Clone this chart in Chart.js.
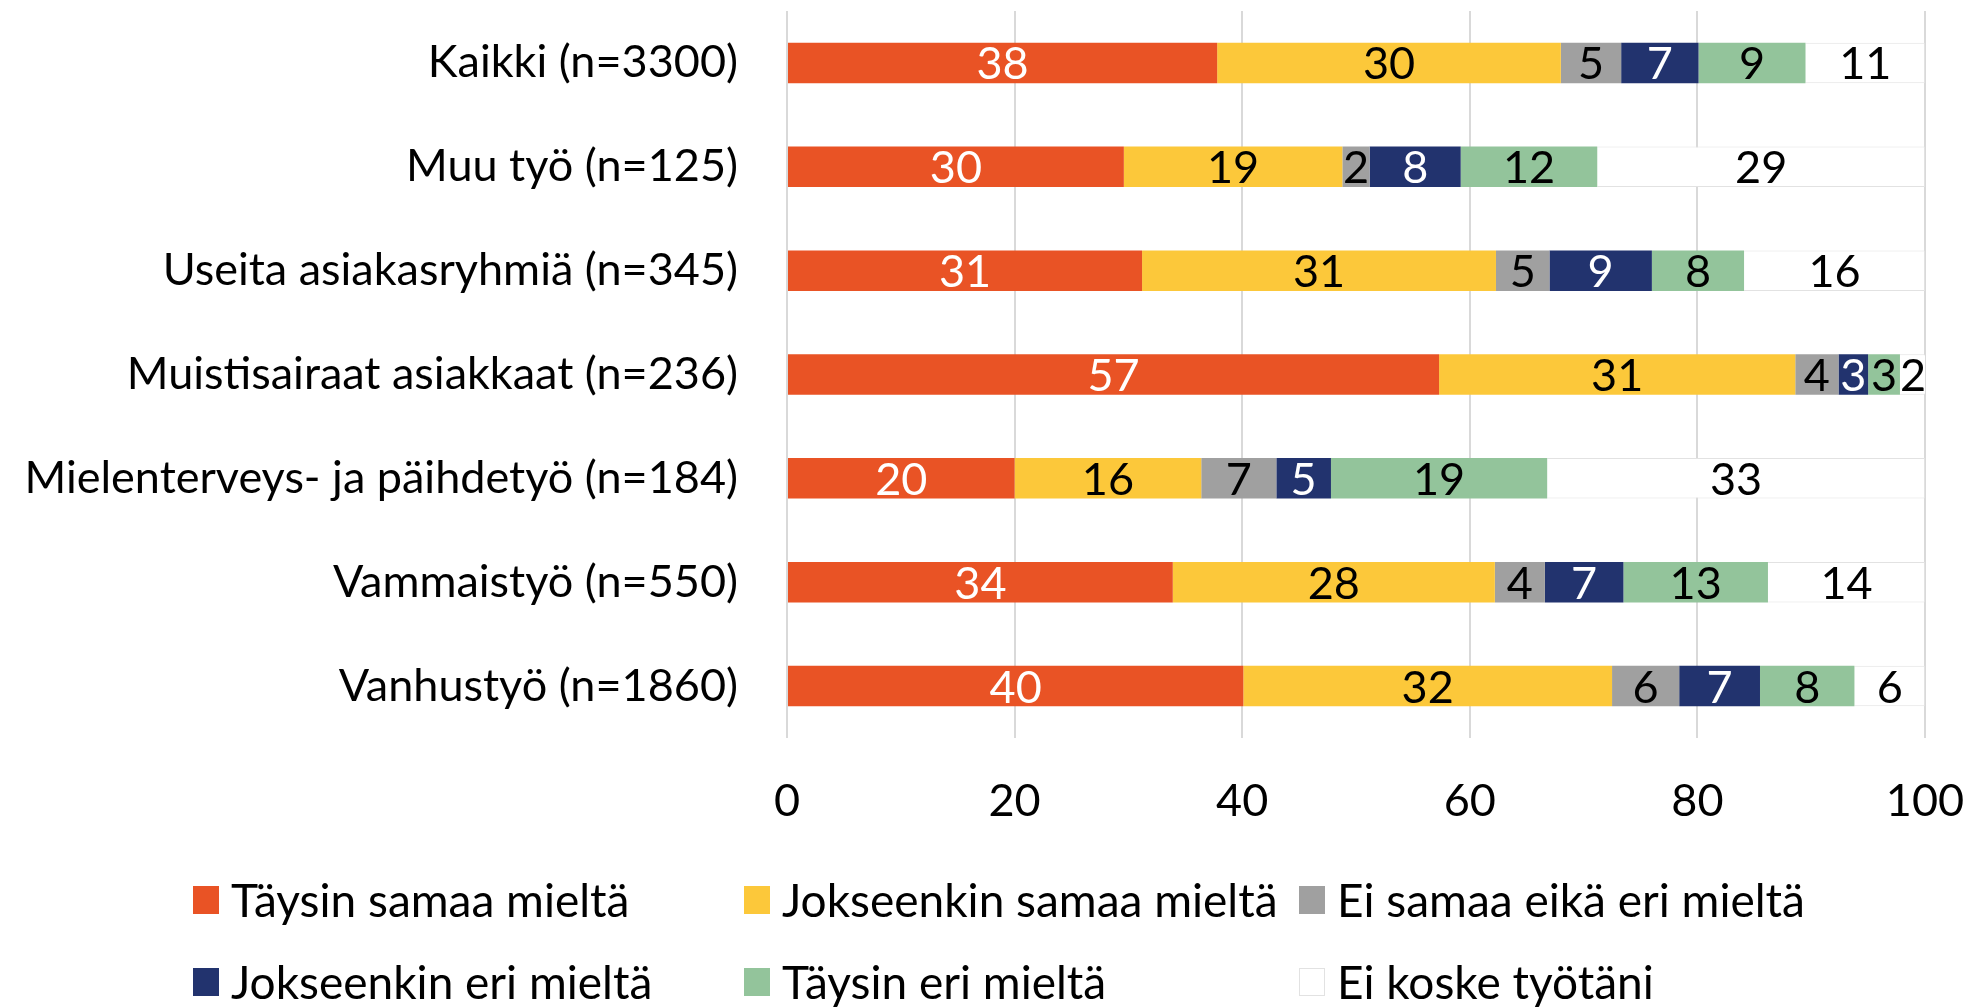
<!DOCTYPE html>
<html>
<head>
<meta charset="utf-8">
<script src="https://cdn.jsdelivr.net/npm/chart.js@4/dist/chart.umd.min.js"></script>
<style>
  html, body { margin: 0; padding: 0; background: #fff; }
  #wrap { width: 1977px; height: 1008px; }
</style>
</head>
<body>
<div id="wrap"><canvas id="chartTyo"></canvas></div>
<script>
// Datos
const ryhmat = ['Kaikki (n=3300)', 'Muu työ (n=125)', 'Useita asiakasryhmiä (n=345)',
  'Muistisairaat asiakkaat (n=236)', 'Mielenterveys- ja päihdetyö (n=184)',
  'Vammaistyö (n=550)', 'Vanhustyö (n=1860)'];

const taysinSamaa     = [37.8, 29.6, 31.2, 57.3, 20.0, 33.9, 40.1];
const jokseenkinSamaa = [30.2, 19.2, 31.1, 31.3, 16.4, 28.3, 32.4];
const eiSamaaEikaEri  = [5.3, 2.4, 4.7, 3.8, 6.6, 4.4, 5.9];
const jokseenkinEri   = [6.8, 8.0, 9.0, 2.6, 4.8, 6.9, 7.1];
const taysinEri       = [9.4, 12.0, 8.1, 2.8, 19.0, 12.7, 8.3];
const eiKoske         = [10.5, 28.8, 15.9, 2.3, 33.2, 13.8, 6.2];

const sarjat = ['Täysin samaa mieltä', 'Jokseenkin samaa mieltä', 'Ei samaa eikä eri mieltä',
  'Jokseenkin eri mieltä', 'Täysin eri mieltä', 'Ei koske työtäni'];

const xTicks = [0, 20, 40, 60, 80, 100];

const FONT = 'Lato';
const FS = 45;   // ejes y etiquetas
const FS_LEY = 46;

const colores = ['#E95325', '#FCC83A', '#A0A0A0', '#22336E', '#93C49B', '#FFFFFF'];
const textoColor = ['#ffffff', '#000000', '#000000', '#ffffff', '#000000', '#000000'];

// etiquetas dentro de las barras
const etiquetas = {
  id: 'etiquetas',
  afterDatasetsDraw(chart) {
    const ctx = chart.ctx;
    ctx.save();
    ctx.font = FS + 'px ' + FONT;
    ctx.textAlign = 'center';
    ctx.textBaseline = 'middle';
    chart.data.datasets.forEach((ds, i) => {
      chart.getDatasetMeta(i).data.forEach((bar, j) => {
        const v = ds.data[j];
        ctx.fillStyle = textoColor[i];
        ctx.fillText(String(Math.round(v)), (bar.x + bar.base) / 2, bar.y + 2);
      });
    });
    ctx.restore();
  }
};

// leyenda en rejilla 3 x 2
const leyenda = {
  id: 'leyenda',
  afterDraw(chart) {
    const ctx = chart.ctx;
    const colsX = [193, 744, 1299];
    const rowsY = [900, 982];
    ctx.save();
    ctx.font = FS_LEY + 'px ' + FONT;
    ctx.textBaseline = 'middle';
    ctx.textAlign = 'left';
    sarjat.forEach((nombre, i) => {
      const x = colsX[i % 3];
      const y = rowsY[Math.floor(i / 3)];
      ctx.fillStyle = colores[i];
      ctx.fillRect(x, y - 14, 26, 28);
      if (i === 5) {
        ctx.strokeStyle = '#e2e2e2';
        ctx.lineWidth = 1;
        ctx.strokeRect(x + 0.5, y - 13.5, 25, 27);
      }
      ctx.fillStyle = '#000';
      ctx.fillText(nombre, x + 38, y + 2);
    });
    ctx.restore();
  }
};

const chartTyo = new Chart(
  document.getElementById('chartTyo'),
  {
    type: 'bar',
    data: {
      labels: ryhmat,
      datasets: [
        { label: sarjat[0], data: taysinSamaa, backgroundColor: colores[0] },
        { label: sarjat[1], data: jokseenkinSamaa, backgroundColor: colores[1] },
        { label: sarjat[2], data: eiSamaaEikaEri, backgroundColor: colores[2] },
        { label: sarjat[3], data: jokseenkinEri, backgroundColor: colores[3] },
        { label: sarjat[4], data: taysinEri, backgroundColor: colores[4] },
        { label: sarjat[5], data: eiKoske, backgroundColor: colores[5],
          borderColor: '#e2e2e2', borderWidth: 1 }
      ]
    },
    options: {
      indexAxis: 'y',
      responsive: true,
      maintainAspectRatio: false,
      animation: false,
      datasets: { bar: { categoryPercentage: 1, barPercentage: 0.39 } },
      layout: { padding: { top: 11, right: 52, bottom: 144, left: 0 } },
      plugins: {
        legend: { display: false },
        tooltip: { enabled: false }
      },
      scales: {
        x: {
          stacked: true,
          min: 0,
          max: 100,
          afterBuildTicks: (scale) => { scale.ticks = xTicks.map(v => ({ value: v })); },
          afterFit: (scale) => { scale.paddingLeft = 0; scale.paddingRight = 0; },
          grid: { color: '#d9d9d9', lineWidth: 2, drawTicks: false },
          border: { display: false },
          ticks: { color: '#000', padding: 36, font: { family: FONT, size: FS } }
        },
        y: {
          stacked: true,
          grid: { display: false, drawTicks: false },
          border: { display: false },
          afterFit: (scale) => { scale.width = 787; scale.paddingTop = 0; scale.paddingBottom = 0; },
          ticks: { color: '#000', padding: 49, font: { family: FONT, size: FS } }
        }
      }
    },
    plugins: [etiquetas, leyenda]
  }
);
</script>
</body>
</html>
